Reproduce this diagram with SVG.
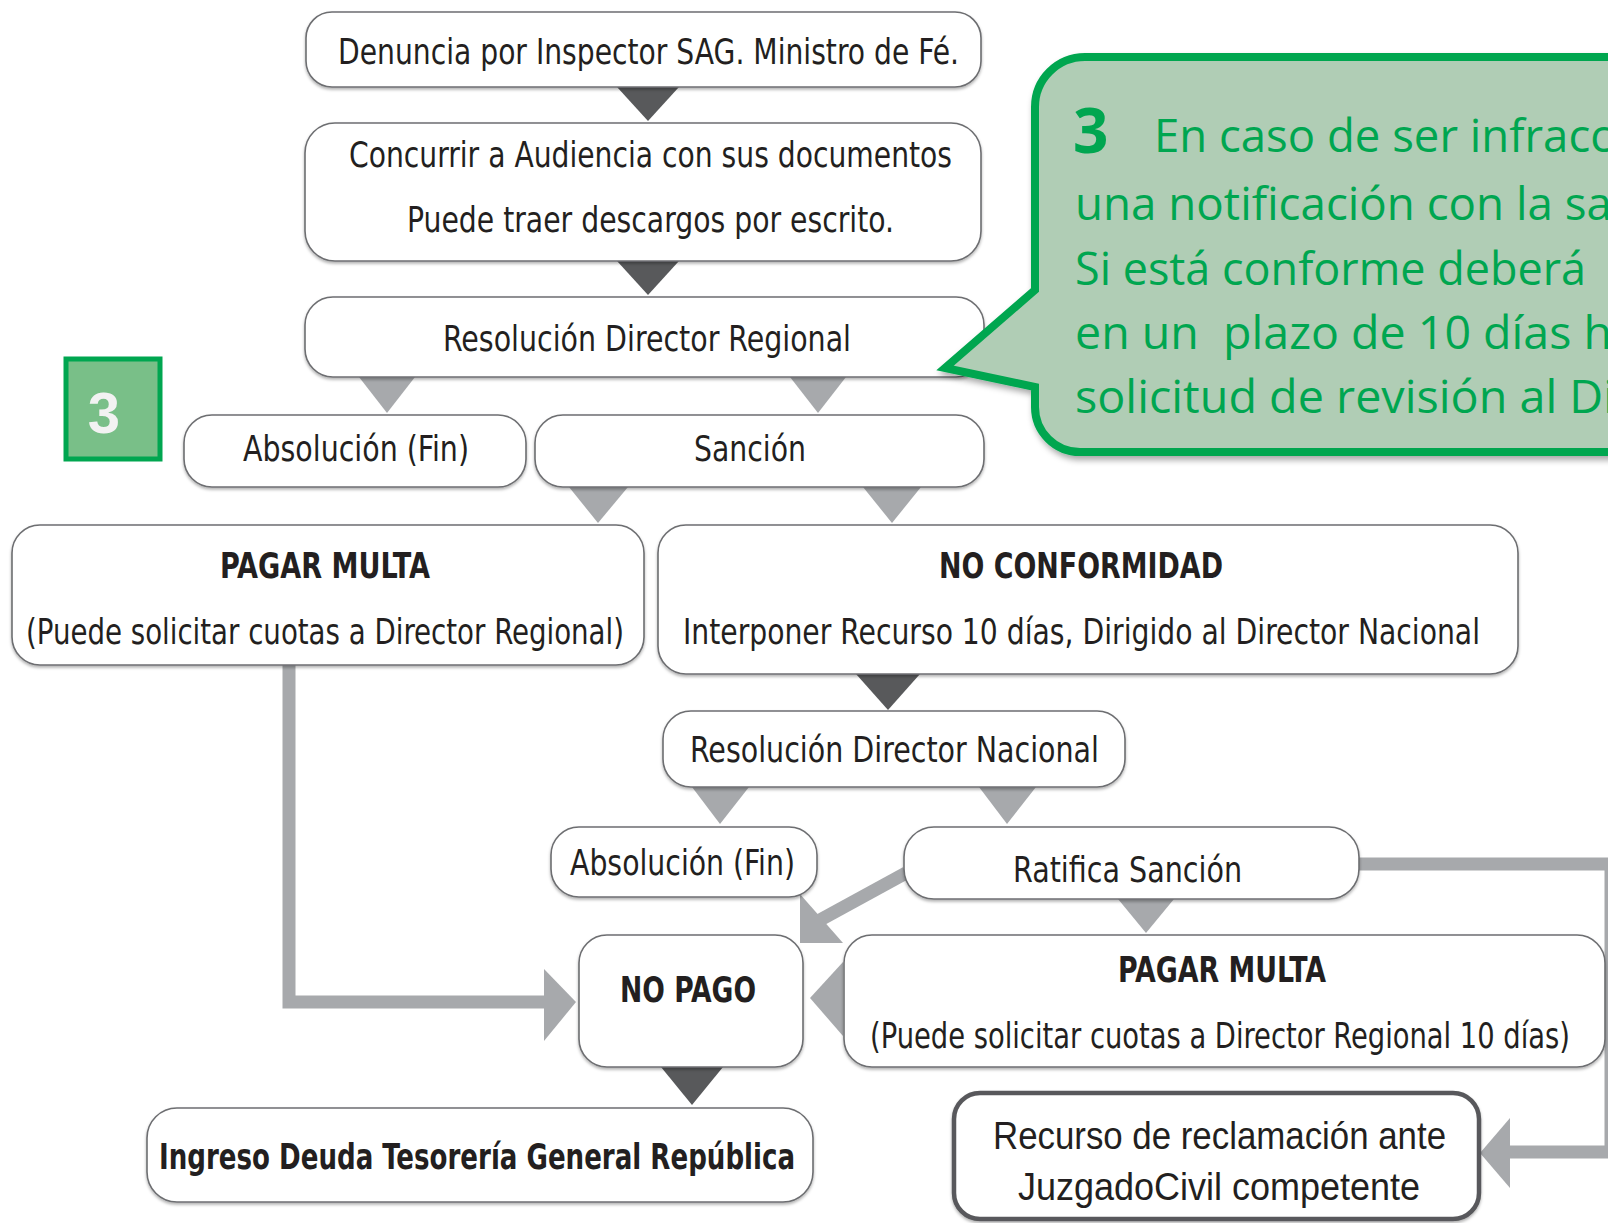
<svg xmlns="http://www.w3.org/2000/svg" width="1608" height="1223" viewBox="0 0 1608 1223">
<defs>
<filter id="sh" x="-5%" y="-20%" width="110%" height="150%">
<feDropShadow dx="0" dy="2" stdDeviation="1.5" flood-color="#000" flood-opacity="0.3"/>
</filter>
<filter id="sh2" x="-5%" y="-5%" width="110%" height="115%">
<feDropShadow dx="2" dy="4" stdDeviation="3" flood-color="#000" flood-opacity="0.35"/>
</filter>
<style>
.box{fill:#fff;stroke:#6d6e71;stroke-width:1.6;filter:url(#sh)}
.box2{fill:#fff;stroke:#58595b;stroke-width:4.5;filter:url(#sh)}
.t{font-family:"Liberation Sans Narrow","DejaVu Sans Condensed","Liberation Sans",sans-serif;font-size:36px;fill:#231f20}
.b{font-weight:bold}
.t2{font-family:"Liberation Sans","DejaVu Sans",sans-serif;font-size:38px;fill:#231f20}
.dk{fill:#58595b}
.gr{fill:#a7a9ac}
.ln{fill:none;stroke:#a7a9ac;stroke-width:13}
.ct{font-family:"Open Sans","Noto Sans",sans-serif;font-size:46px;fill:#00a650}
.ct3{font-family:"Open Sans","Noto Sans",sans-serif;font-size:62px;font-weight:bold;fill:#00a650}
</style>
</defs>
<rect width="1608" height="1223" fill="#fff"/>

<g id="connectors">
<polygon class="dk" points="617,87 679,87 648,121"/>
<polygon class="dk" points="617,261 679,261 648,295"/>
<polygon class="gr" points="359,377 415,377 387,413"/>
<polygon class="gr" points="790,377 846,377 818,413"/>
<polygon class="gr" points="569,487 628,487 598,523"/>
<polygon class="gr" points="863,487 921,487 892,523"/>
<polygon class="dk" points="856,674 920,674 888,710"/>
<polygon class="gr" points="692,787 749,787 720,824"/>
<polygon class="gr" points="979,787 1036,787 1007,824"/>
<polygon class="gr" points="1118,899 1174,899 1146,933"/>
<polygon class="dk" points="661,1067 723,1067 692,1105"/>
<path class="ln" d="M289,665 V1002 H546"/>
<polygon class="gr" points="544,969 576,1002 544,1041"/>
<polygon class="gr" points="843,962 810,998 843,1036"/>
<path class="ln" d="M906,873 L820,920"/>
<polygon class="gr" points="800,894 800,943 843,943"/>
<path class="ln" d="M1359,864 H1611 V1152 H1508"/>
<polygon class="gr" points="1510,1118 1480,1153 1510,1188"/>
</g>

<g id="n-denuncia">
<rect class="box" x="306" y="12" width="675" height="75" rx="26"/>
<text class="t" x="338" y="64" textLength="621" lengthAdjust="spacingAndGlyphs">Denuncia por Inspector SAG. Ministro de Fé.</text>
</g>
<g id="n-concurrir">
<rect class="box" x="305" y="123" width="676" height="138" rx="30"/>
<text class="t" x="349" y="167" textLength="603" lengthAdjust="spacingAndGlyphs">Concurrir a Audiencia con sus documentos</text>
<text class="t" x="407" y="232" textLength="487" lengthAdjust="spacingAndGlyphs">Puede traer descargos por escrito.</text>
</g>
<g id="n-resol-regional">
<rect class="box" x="305" y="297" width="679" height="80" rx="28"/>
<text class="t" x="443" y="351" textLength="408" lengthAdjust="spacingAndGlyphs">Resolución Director Regional</text>
</g>
<g id="n-absolucion1">
<rect class="box" x="184" y="415" width="342" height="72" rx="28"/>
<text class="t" x="243" y="461" textLength="226" lengthAdjust="spacingAndGlyphs">Absolución (Fin)</text>
</g>
<g id="n-sancion">
<rect class="box" x="535" y="415" width="449" height="72" rx="28"/>
<text class="t" x="694" y="461" textLength="112" lengthAdjust="spacingAndGlyphs">Sanción</text>
</g>
<g id="n-pagar1">
<rect class="box" x="12" y="525" width="632" height="140" rx="28"/>
<text class="t b" x="220" y="578" textLength="210" lengthAdjust="spacingAndGlyphs">PAGAR MULTA</text>
<text class="t" x="26" y="644" textLength="598" lengthAdjust="spacingAndGlyphs">(Puede solicitar cuotas a Director Regional)</text>
</g>
<g id="n-noconformidad">
<rect class="box" x="658" y="525" width="860" height="149" rx="28"/>
<text class="t b" x="939" y="578" textLength="284" lengthAdjust="spacingAndGlyphs">NO CONFORMIDAD</text>
<text class="t" x="683" y="644" textLength="797" lengthAdjust="spacingAndGlyphs">Interponer Recurso 10 días, Dirigido al Director Nacional</text>
</g>
<g id="n-resol-nacional">
<rect class="box" x="663" y="711" width="462" height="76" rx="28"/>
<text class="t" x="690" y="762" textLength="409" lengthAdjust="spacingAndGlyphs">Resolución Director Nacional</text>
</g>
<g id="n-absolucion2">
<rect class="box" x="551" y="827" width="266" height="70" rx="28"/>
<text class="t" x="570" y="875" textLength="225" lengthAdjust="spacingAndGlyphs">Absolución (Fin)</text>
</g>
<g id="n-ratifica">
<rect class="box" x="904" y="827" width="455" height="72" rx="30"/>
<text class="t" x="1013" y="882" textLength="229" lengthAdjust="spacingAndGlyphs">Ratifica Sanción</text>
</g>
<g id="n-pagar2">
<rect class="box" x="844" y="935" width="761" height="132" rx="28"/>
<text class="t b" x="1118" y="982" textLength="208" lengthAdjust="spacingAndGlyphs">PAGAR MULTA</text>
<text class="t" x="870" y="1048" textLength="700" lengthAdjust="spacingAndGlyphs">(Puede solicitar cuotas a Director Regional 10 días)</text>
</g>
<g id="n-nopago">
<rect class="box" x="579" y="935" width="224" height="132" rx="28"/>
<text class="t b" x="620" y="1002" textLength="136" lengthAdjust="spacingAndGlyphs">NO PAGO</text>
</g>
<g id="n-ingreso">
<rect class="box" x="147" y="1108" width="666" height="94" rx="30"/>
<text class="t b" x="159" y="1169" textLength="636" lengthAdjust="spacingAndGlyphs">Ingreso Deuda Tesorería General República</text>
</g>
<g id="n-recurso">
<rect class="box2" x="954" y="1093" width="525" height="126" rx="26"/>
<text class="t2" x="993" y="1149" textLength="453" lengthAdjust="spacingAndGlyphs">Recurso de reclamación ante</text>
<text class="t2" x="1018" y="1200" textLength="402" lengthAdjust="spacingAndGlyphs">JuzgadoCivil competente</text>
</g>

<g id="badge-3">
<rect x="66" y="359" width="94" height="100" fill="#79bf88" stroke="#00a650" stroke-width="5"/>
<text x="104" y="433" text-anchor="middle" font-family="Liberation Sans, Arial, sans-serif" font-weight="bold" font-size="58" fill="#f2f2f2">3</text>
</g>

<g id="callout">
<path d="M1085,57 H1680 V452 H1080 A45,45 0 0 1 1035,407 V387 L945,368 L1035,290 V107 A50,50 0 0 1 1085,57 Z" fill="#b0cdb5" stroke="#00a650" stroke-width="8" stroke-linejoin="miter" filter="url(#sh2)"/>
<text class="ct3" x="1073" y="153">3</text>
<text class="ct" x="1154" y="152" textLength="458" lengthAdjust="spacingAndGlyphs">En caso de ser infracc</text>
<text class="ct" x="1075" y="220" textLength="537" lengthAdjust="spacingAndGlyphs">una notificación con la sa</text>
<text class="ct" x="1075" y="285" textLength="511" lengthAdjust="spacingAndGlyphs">Si está conforme deberá</text>
<text class="ct" x="1075" y="349" textLength="537" lengthAdjust="spacingAndGlyphs" xml:space="preserve">en un  plazo de 10 días h</text>
<text class="ct" x="1075" y="413" textLength="540" lengthAdjust="spacingAndGlyphs">solicitud de revisión al Di</text>
</g>
</svg>
